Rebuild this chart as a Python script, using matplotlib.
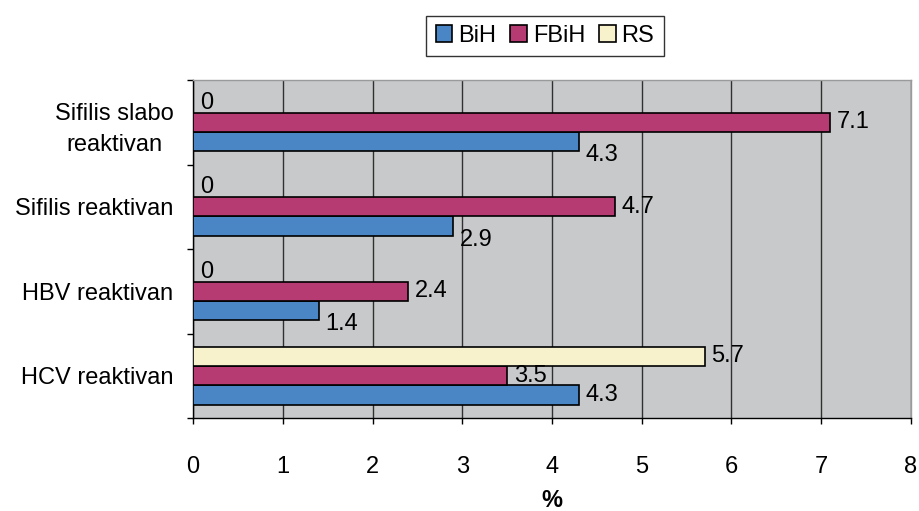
import matplotlib
matplotlib.use("Agg")
import matplotlib.pyplot as plt
from matplotlib.patches import Patch
import numpy as np

plt.rcParams['font.family'] = ['Liberation Sans', 'DejaVu Sans']

categories = ["HCV reaktivan", "HBV reaktivan", "Sifilis reaktivan", "Sifilis slabo\nreaktivan"]
series_names = ["BiH", "FBiH", "RS"]
bih = [4.3, 1.4, 2.9, 4.3]
fbih = [3.5, 2.4, 4.7, 7.1]
rs = [5.7, 0, 0, 0]
x_ticks = [0, 1, 2, 3, 4, 5, 6, 7, 8]

colors = {"BiH": "#4a86c6", "FBiH": "#b53b72", "RS": "#f8f2cc"}
FS = 17

fig = plt.figure(figsize=(9.2, 5.11), dpi=100)
ax = fig.add_axes([0.2098, 0.182, 0.9902 - 0.2098, 0.8434 - 0.182])
ax.set_facecolor("#c8c9cb")

pos = np.arange(len(categories))
h = 0.228
offsets = {"BiH": -h, "FBiH": 0.0, "RS": h}
data = {"BiH": bih, "FBiH": fbih, "RS": rs}

for name in series_names:
    ax.barh(pos + offsets[name], data[name], height=h, color=colors[name],
            edgecolor="black", linewidth=1.2, zorder=3)

# value labels
for name in series_names:
    for i, v in enumerate(data[name]):
        dy = 0
        if name == "BiH" and i > 0:
            dy = -10
        ax.annotate(f"{v:g}", xy=(v, pos[i] + offsets[name]),
                    xytext=(5, dy), textcoords="offset points",
                    ha="left", va="center", fontsize=FS, color="black", zorder=4)

ax.set_xlim(0, 8)
ax.set_ylim(-0.5, len(categories) - 0.5)
ax.set_xticks(x_ticks)
ax.set_xticklabels([str(t) for t in x_ticks], fontsize=FS)
ax.tick_params(axis="x", direction="out", length=4.5, width=1, pad=23, color="black")

ax.set_yticks(pos)
ax.set_yticklabels(categories, fontsize=FS, linespacing=1.55, multialignment="center")
ax.tick_params(axis="y", which="major", length=0, pad=14)
ax.set_yticks(np.arange(-0.5, len(categories), 1.0), minor=True)
ax.tick_params(axis="y", which="minor", direction="out", length=4.5, width=1, color="black")

ax.xaxis.grid(True, color="#303030", linewidth=1.0, zorder=0)
ax.set_axisbelow(True)

for s in ["left", "bottom"]:
    ax.spines[s].set_color("black")
    ax.spines[s].set_linewidth(1.0)
for s in ["top", "right"]:
    ax.spines[s].set_color("#9a9a9a")
    ax.spines[s].set_linewidth(1.0)

ax.set_xlabel("%", fontsize=FS, fontweight="bold", labelpad=8)

handles = [Patch(facecolor=colors[n], edgecolor="black", linewidth=1.2, label=n) for n in series_names]
leg = fig.legend(handles=handles, loc="center", bbox_to_anchor=(545 / 920, 1 - 36 / 511),
                 ncol=3, fontsize=FS, frameon=True, fancybox=False,
                 handlelength=0.7, handleheight=0.7, handletextpad=0.25,
                 columnspacing=0.6, borderpad=0.4, edgecolor="black")
leg.get_frame().set_linewidth(1.0)

fig.savefig("out.png", dpi=100)
